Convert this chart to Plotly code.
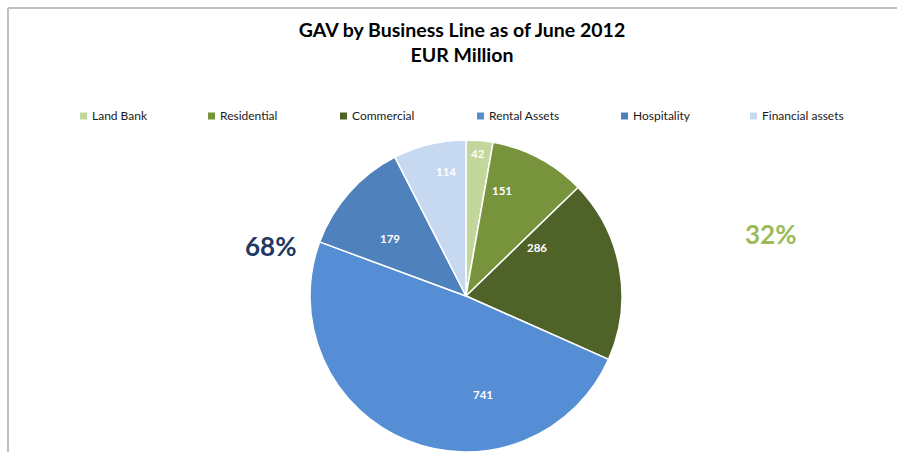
import plotly.graph_objects as go

# GAV by business line, EUR million (June 2012)
categories = ["Land Bank", "Residential", "Commercial", "Rental Assets", "Hospitality", "Financial assets"]
values = [42, 151, 286, 741, 179, 114]
colors = ["#C3D69B", "#77933C", "#4F6228", "#558ED5", "#4F81BD", "#C6D9F1"]

# share groups shown beside the pie
group_labels = ["68%", "32%"]
group_colors = ["#1F3864", "#9BBB59"]

W, H = 897, 452
FONT = "Lato"

# pixel placement of the value labels on the slices and of the legend entries
label_xy = [(478, 153), (502, 191), (537, 247), (483, 394), (390, 238), (446, 171)]
legend_text_x = [90, 218, 350, 487, 631, 760]
LEGEND_Y = 116


def px(x):
    return x / W


def py(y):
    return 1 - y / H


fig = go.Figure()
fig.add_trace(go.Pie(
    labels=categories,
    values=values,
    sort=False,
    direction="clockwise",
    rotation=0,
    marker=dict(colors=colors, line=dict(color="white", width=1.5)),
    textinfo="none",
    hoverinfo="label+value+percent",
    domain=dict(x=[px(310), px(622)], y=[0, 312 / H]),
    showlegend=False,
))

# value labels on the slices
for v, (lx, ly) in zip(values, label_xy):
    fig.add_annotation(text="<b>%d</b>" % v, xref="paper", yref="paper",
                       x=px(lx), y=py(ly), xanchor="center", yanchor="middle", showarrow=False,
                       font=dict(family=FONT, size=11.5, color="white"))

# legend row
for name, col, tx in zip(categories, colors, legend_text_x):
    fig.add_shape(type="rect", xref="paper", yref="paper",
                  x0=px(tx - 10), x1=px(tx - 3), y0=py(LEGEND_Y + 3.5), y1=py(LEGEND_Y - 3.5),
                  fillcolor=col, line=dict(width=0))
    fig.add_annotation(text=name, xref="paper", yref="paper",
                       x=px(tx), y=py(LEGEND_Y), xanchor="left", yanchor="middle", showarrow=False,
                       font=dict(family=FONT, size=12, color="#1A1A1A"))

# chart frame (top and left edge)
fig.add_shape(type="line", xref="paper", yref="paper", x0=px(8), x1=1, y0=py(8), y1=py(8),
              line=dict(color="#BFBFBF", width=2))
fig.add_shape(type="line", xref="paper", yref="paper", x0=px(8), x1=px(8), y0=0, y1=py(8),
              line=dict(color="#BFBFBF", width=2))

fig.add_annotation(text="<b>" + group_labels[0] + "</b>", xref="paper", yref="paper",
                   x=px(270), y=py(246), xanchor="center", yanchor="middle", showarrow=False,
                   font=dict(family=FONT, size=26, color=group_colors[0]))
fig.add_annotation(text="<b>" + group_labels[1] + "</b>", xref="paper", yref="paper",
                   x=px(770), y=py(234), xanchor="center", yanchor="middle", showarrow=False,
                   font=dict(family=FONT, size=26, color=group_colors[1]))

fig.update_layout(
    width=W, height=H,
    margin=dict(l=0, r=0, t=0, b=0),
    paper_bgcolor="white",
    plot_bgcolor="white",
    showlegend=False,
    title=dict(text="<b>GAV by Business Line as of June 2012<br>EUR Million</b>",
               x=px(462), xanchor="center", y=py(37), yanchor="middle",
               font=dict(family=FONT, size=19.5, color="black")),
)

fig.write_html("out.html")
